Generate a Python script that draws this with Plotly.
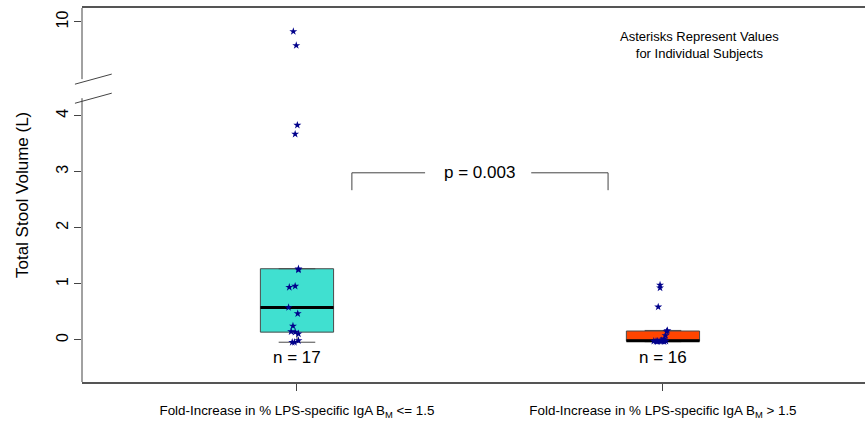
import numpy as np
import plotly.graph_objects as go

# ---- data ----
categories = ["Fold-Increase in % LPS-specific IgA B<sub>M</sub> &lt;= 1.5",
              "Fold-Increase in % LPS-specific IgA B<sub>M</sub> &gt; 1.5"]
group1_values = [9.83, 9.58, 3.83, 3.67, 1.27, 1.25, 0.96, 0.94, 0.58, 0.47,
                 0.25, 0.15, 0.14, 0.11, -0.01, -0.04, -0.04]
group1_jitter = [-0.010, -0.002, 0.001, -0.005, 0.004, 0.004, -0.005, -0.021, -0.023, 0.002,
                 -0.011, -0.016, -0.005, 0.004, 0.004, -0.013, -0.007]
group2_values = [0.98, 0.93, 0.59, 0.17, 0.15, 0.08, 0.02, -0.01,
                 -0.02, -0.02, -0.02, -0.02, -0.02, -0.02, -0.03, -0.03]
group2_jitter = [-0.008, -0.008, -0.013, 0.012, 0.010, 0.007, 0.003, -0.005,
                 -0.025, -0.019, -0.014, -0.008, -0.003, 0.008, -0.016, 0.003]
box_colors = ["#40E0D0", "#FF4500"]
y_tick_values = [0, 1, 2, 3, 4, 10]
p_text = "p = 0.003"
y_title = "Total Stool Volume (L)"
note_text = "Asterisks Represent Values<br>for Individual Subjects"

# ---- broken axis transform ----
GAP = 4.33          # amount removed above the break
BREAK_AT = 4.5


def disp(v):
    return v if v <= BREAK_AT else v - GAP


def fivenum(vals):
    x = np.sort(np.asarray(vals, dtype=float))
    n = len(x)
    n4 = np.floor((n + 3) / 2) / 2
    d = np.array([1, n4, (n + 1) / 2, n + 1 - n4, n]) - 1
    return 0.5 * (x[np.floor(d).astype(int)] + x[np.ceil(d).astype(int)])


groups = [group1_values, group2_values]
jitters = [group1_jitter, group2_jitter]
BOX_W = 0.2

fig = go.Figure()
for i, (vals, jit) in enumerate(zip(groups, jitters)):
    pos = i + 1
    mn, q1, med, q3, mx = fivenum(vals)
    iqr = q3 - q1
    arr = np.asarray(vals)
    upper = arr[arr <= q3 + 1.5 * iqr].max()
    lower = arr[arr >= q1 - 1.5 * iqr].min()
    fig.add_trace(go.Box(
        x=[pos], q1=[q1], median=[med], q3=[q3],
        lowerfence=[lower], upperfence=[upper],
        width=BOX_W, whiskerwidth=0.5, boxpoints=False,
        fillcolor=box_colors[i], line=dict(color="#4a4a4a", width=1),
        hoverinfo="skip", showlegend=False))
    # thick black median
    fig.add_trace(go.Scatter(
        x=[pos - BOX_W / 2, pos + BOX_W / 2], y=[med, med], mode="lines",
        line=dict(color="black", width=3), showlegend=False, hoverinfo="skip"))
    # individual subjects
    fig.add_trace(go.Scatter(
        x=[pos + j for j in jit], y=[disp(v) for v in vals], mode="markers",
        marker=dict(symbol="star", size=6, color="#00008B"),
        showlegend=False, hoverinfo="skip"))
    fig.add_annotation(x=pos, y=-0.32, text=f"n = {len(vals)}", showarrow=False,
                       font=dict(size=17, color="black"))

# p-value bracket
bx0, bx1, by_top, by_bot = 1.15, 1.85, 2.98, 2.67
fig.add_shape(type="line", x0=bx0, x1=bx0, y0=by_bot, y1=by_top, line=dict(color="#444", width=1))
fig.add_shape(type="line", x0=bx0, x1=1.35, y0=by_top, y1=by_top, line=dict(color="#444", width=1))
fig.add_shape(type="line", x0=1.64, x1=bx1, y0=by_top, y1=by_top, line=dict(color="#444", width=1))
fig.add_shape(type="line", x0=bx1, x1=bx1, y0=by_bot, y1=by_top, line=dict(color="#444", width=1))
fig.add_annotation(x=1.5, y=by_top, text=p_text, showarrow=False, font=dict(size=17, color="black"))

# top-right note
fig.add_annotation(xref="paper", yref="paper", x=0.789, y=0.90, xanchor="center", yanchor="middle",
                   text=note_text, showarrow=False, font=dict(size=13, color="black"))

# y title
fig.add_annotation(xref="paper", yref="paper", x=-0.0766, y=0.5, xanchor="center", yanchor="middle",
                   text=y_title, textangle=-90, showarrow=False, font=dict(size=17, color="black"))

# y axis line with break
y_lo, y_hi = -0.749, 5.918
fig.add_shape(type="line", xref="paper", x0=0, x1=0, y0=y_lo, y1=4.31, line=dict(color="#444", width=1))
fig.add_shape(type="line", xref="paper", x0=0, x1=0, y0=4.65, y1=y_hi, line=dict(color="#444", width=1))
for yb in (4.31, 4.65):
    fig.add_shape(type="line", xref="paper", x0=-0.009, x1=0.038, y0=yb - 0.09, y1=yb + 0.09,
                  line=dict(color="#444", width=1))

fig.update_layout(
    width=865, height=422,
    margin=dict(l=82, r=0, t=8, b=40),
    paper_bgcolor="white", plot_bgcolor="white",
    font=dict(family="Liberation Sans, Arial, sans-serif", color="black"),
    xaxis=dict(range=[0.4126, 2.552], tickvals=[1, 2], ticktext=categories,
               showgrid=False, zeroline=False, showline=True, mirror=True, automargin=False,
               linecolor="#555", linewidth=1.5, ticks="outside", ticklen=7, tickcolor="#444",
               tickfont=dict(size=13.4), ticklabelstandoff=8),
    yaxis=dict(range=[y_lo, y_hi], tickvals=[disp(v) for v in y_tick_values],
               ticktext=[str(v) for v in y_tick_values], tickangle=-90, automargin=False,
               showgrid=False, zeroline=False, showline=False,
               ticks="outside", ticklen=7, tickcolor="#444", tickfont=dict(size=16)),
)

fig.write_html("out.html", config={"displayModeBar": False},
               post_script="document.body.style.margin='0';document.body.style.overflow='hidden';")
